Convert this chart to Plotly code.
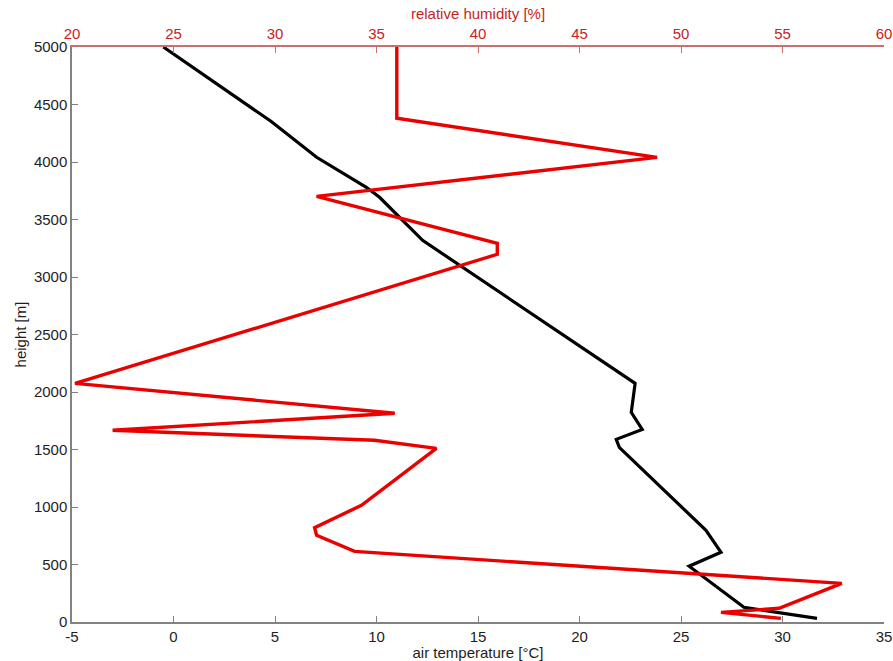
import plotly.graph_objects as go

# Vertical profile: air temperature (bottom axis) and relative humidity (top axis)
temp_c = [-0.5, 4.8, 7.05, 9.5, 10.15, 12.27, 22.74, 22.55, 23.09, 21.81, 21.96,
          26.23, 26.97, 25.4, 28.1, 31.7]
temp_h = [5000, 4354, 4041, 3780, 3693, 3319, 2075, 1823, 1675, 1588, 1519,
          797, 606, 485, 128, 32]

rh_pct = [36.0, 36.0, 48.82, 32.05, 40.95, 40.95, 20.15, 35.9, 22.0, 34.9, 37.95,
          34.26, 31.95, 32.05, 33.92, 57.92, 54.83, 51.97, 54.92]
rh_h = [5000, 4380, 4040, 3701, 3292, 3197, 2075, 1815, 1667, 1580, 1510,
        1015, 820, 754, 614, 336, 119, 84, 32]

temp_ticks = [-5, 0, 5, 10, 15, 20, 25, 30, 35]
rh_ticks = [20, 25, 30, 35, 40, 45, 50, 55, 60]
height_ticks = [0, 500, 1000, 1500, 2000, 2500, 3000, 3500, 4000, 4500, 5000]

FONT = "Liberation Sans, Arial, sans-serif"
RED_TXT = "rgb(200,35,35)"
AX_GRAY = "rgb(130,130,130)"
TXT = "rgb(30,30,30)"

fig = go.Figure()
fig.add_trace(go.Scatter(x=temp_c, y=temp_h, mode="lines",
                         line=dict(color="black", width=3.2), xaxis="x", yaxis="y",
                         showlegend=False))
fig.add_trace(go.Scatter(x=rh_pct, y=rh_h, mode="lines",
                         line=dict(color="rgb(235,0,0)", width=3.4), xaxis="x2", yaxis="y",
                         showlegend=False))

fig.update_layout(
    width=893, height=661,
    margin=dict(l=72, r=9, t=47, b=39),
    paper_bgcolor="white", plot_bgcolor="white",
    font=dict(family=FONT, size=14, color=TXT),
    xaxis=dict(
        range=[-5, 35], tickvals=temp_ticks, ticktext=[str(v) for v in temp_ticks],
        automargin=False, showgrid=False, zeroline=False, ticklabeloverflow="allow",
        showline=True, linecolor=AX_GRAY, linewidth=1.5, mirror=False,
        ticks="inside", ticklen=6, tickcolor=AX_GRAY,
        tickfont=dict(size=15, color=TXT),
        title=dict(text="air temperature [°C]", font=dict(size=15, color=TXT),
                   standoff=0),
    ),
    xaxis2=dict(
        range=[20, 60], tickvals=rh_ticks, ticktext=[str(v) for v in rh_ticks],
        overlaying="x", side="top", anchor="y", ticklabeloverflow="allow",
        automargin=False, showgrid=False, zeroline=False,
        showline=True, linecolor="rgb(205,110,110)", linewidth=1.5,
        ticks="inside", ticklen=6, tickcolor="rgb(205,110,110)",
        tickfont=dict(size=15, color=RED_TXT),
        title=dict(text="relative humidity [%]", font=dict(size=15, color=RED_TXT),
                   standoff=2),
    ),
    yaxis=dict(
        range=[0, 5000], tickvals=height_ticks, ticktext=[str(v) for v in height_ticks],
        automargin=False, showgrid=False, zeroline=False,
        showline=True, linecolor=AX_GRAY, linewidth=1.5, mirror=False,
        ticks="inside", ticklen=6, tickcolor=AX_GRAY,
        tickfont=dict(size=15, color=TXT),
        title=dict(text="height [m]", font=dict(size=15, color=TXT),
                   standoff=4),
    ),
)

fig.write_html("out.html")
